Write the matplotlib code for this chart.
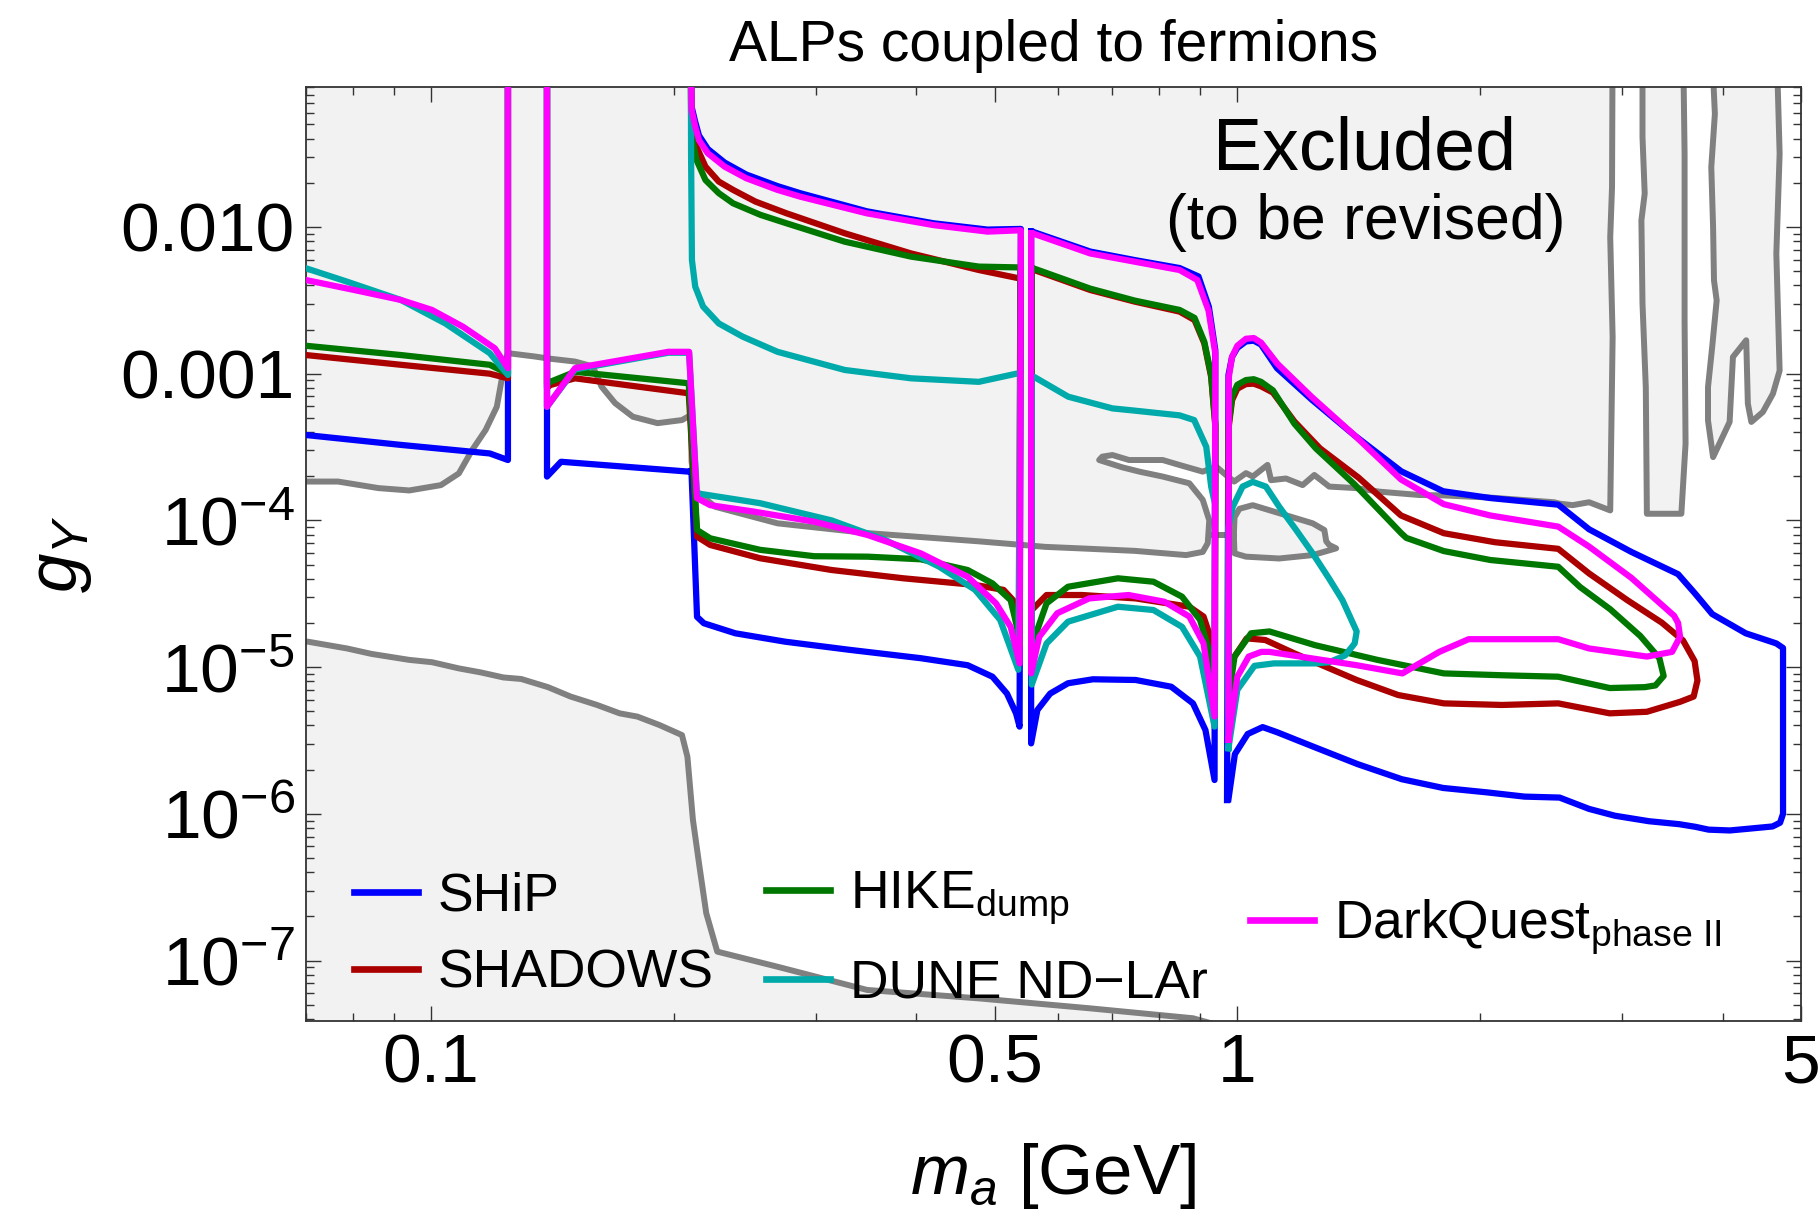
import numpy as np
import matplotlib
matplotlib.use('Agg')
import matplotlib.pyplot as plt
from matplotlib.lines import Line2D
from matplotlib.ticker import LogLocator, NullFormatter

plt.rcParams['font.family'] = ['Liberation Sans', 'DejaVu Sans']
plt.rcParams['mathtext.fontset'] = 'custom'
plt.rcParams['mathtext.rm'] = 'Liberation Sans'
plt.rcParams['mathtext.it'] = 'Liberation Sans:italic'
plt.rcParams['mathtext.bf'] = 'Liberation Sans:bold'

nan = np.nan
TOP = 0.2   # above the frame, curves leave through the top edge

# ---- sensitivity contours (m_a [GeV], g_Y), pieces split by nan ----
ship = [
    (0.07, 3.82e-4), (0.0918, 3.27e-4), (0.1183, 2.86e-4), (0.1246, 2.58e-4), (0.1246, TOP),
    (nan, nan),
    (0.1393, TOP), (0.1393, 1.99e-4), (0.145, 2.51e-4), (0.2088, 2.15e-4), (0.2104, 2.2e-4), (0.2138, 2.2e-5),
    (0.218, 1.99e-5), (0.2385, 1.7e-5), (0.275, 1.49e-5), (0.331, 1.31e-5), (0.405, 1.15e-5), (0.463, 1.03e-5),
    (0.497, 8.6e-6), (0.518, 6.6e-6), (0.5316, 4.84e-6), (0.537, 3.93e-6), (0.539, 9.7e-3),
    (0.49, 9.6e-3), (0.42, 1.06e-2), (0.347, 1.28e-2), (0.287, 1.7e-2), (0.269, 1.9e-2), (0.246, 2.28e-2),
    (0.2313, 2.75e-2), (0.2205, 3.4e-2), (0.215, 4.2e-2), (0.2127, 5.2e-2), (0.2105, 0.066), (0.21, TOP),
    (nan, nan),
    (0.555, 9.3e-3), (0.555, 3.02e-6), (0.565, 5.1e-6), (0.586, 6.6e-6), (0.6166, 7.76e-6), (0.662, 8.26e-6),
    (0.748, 8.17e-6), (0.828, 7.35e-6), (0.881, 5.66e-6), (0.913, 3.72e-6), (0.937, 1.7e-6), (0.939, 1.45e-3),
    (0.922, 2.85e-3), (0.895, 4.6e-3), (0.848, 5.25e-3), (0.746, 5.95e-3), (0.657, 6.8e-3), (0.557, 9.3e-3),
    (0.555, 9.3e-3),
    (nan, nan),
    (0.971, 1.24e-6), (0.975, 9.8e-4), (0.985, 1.3e-3), (1.0, 1.5e-3), (1.025, 1.66e-3), (1.048, 1.68e-3),
    (1.07, 1.58e-3), (1.12, 1.09e-3),
    (1.237, 6.65e-4), (1.397, 3.8e-4), (1.597, 2.16e-4), (1.80, 1.58e-4), (2.06, 1.42e-4), (2.50, 1.28e-4),
    (2.73, 8.7e-5), (3.08, 6.1e-5), (3.52, 4.3e-5), (3.69, 3.2e-5), (3.88, 2.3e-5), (4.27, 1.7e-5),
    (4.66, 1.45e-5), (4.75, 1.35e-5), (4.75, 1.0e-6), (4.71, 8.7e-7), (4.61, 8.2e-7), (4.29, 7.9e-7),
    (4.08, 7.7e-7), (3.84, 7.8e-7), (3.70, 8.15e-7), (3.53, 8.5e-7), (3.24, 8.9e-7), (2.94, 9.7e-7),
    (2.73, 1.08e-6), (2.51, 1.29e-6), (2.27, 1.31e-6), (2.04, 1.4e-6), (1.80, 1.5e-6), (1.60, 1.72e-6),
    (1.41, 2.18e-6), (1.236, 2.9e-6), (1.12, 3.6e-6), (1.075, 3.9e-6), (1.03, 3.5e-6), (0.993, 2.55e-6),
    (0.975, 1.26e-6),
]

shadows = [
    (0.07, 1.34e-3), (0.0918, 1.15e-3), (0.1183, 1.0e-3), (0.1246, 9.3e-4), (0.1246, TOP),
    (nan, nan),
    (0.1393, TOP), (0.1393, 8.0e-4), (0.1406, 8.37e-4), (0.1509, 9.3e-4), (0.2088, 7.35e-4), (0.2138, 7.75e-5),
    (0.222, 6.8e-5), (0.256, 5.52e-5), (0.314, 4.59e-5), (0.3855, 4.03e-5), (0.473, 3.63e-5), (0.513, 3.36e-5),
    (0.5316, 2.72e-5), (0.537, 1.8e-5), (0.538, 4.45e-3),
    (0.478, 5.09e-3), (0.394, 6.6e-3), (0.326, 9.06e-3), (0.276, 1.24e-2), (0.2526, 1.49e-2), (0.237, 1.79e-2),
    (0.2275, 2.04e-2), (0.219, 2.58e-2), (0.2135, 3.52e-2), (0.211, 4.83e-2), (0.2102, 0.07), (0.21, TOP),
    (nan, nan),
    (0.556, 5.1e-3), (0.556, 2.45e-5), (0.58, 3.1e-5), (0.642, 3.1e-5), (0.748, 2.94e-5), (0.872, 2.58e-5),
    (0.908, 2.21e-5), (0.9316, 1.45e-5), (0.938, 8e-6), (0.939, 4.4e-4),
    (0.928, 9.5e-4), (0.91, 1.61e-3), (0.885, 2.32e-3), (0.848, 2.65e-3), (0.746, 3.1e-3), (0.657, 3.72e-3),
    (0.56, 5.09e-3), (0.556, 5.1e-3),
    (nan, nan),
    (0.975, 5e-6), (0.975, 4.2e-4), (0.985, 6.6e-4), (1.0, 7.9e-4), (1.025, 8.5e-4), (1.048, 8.55e-4),
    (1.07, 8.2e-4), (1.107, 7.44e-4),
    (1.177, 4.72e-4), (1.266, 3.1e-4), (1.413, 1.96e-4), (1.596, 1.08e-4), (1.803, 8.18e-5), (2.087, 7.1e-5),
    (2.50, 6.4e-5), (2.73, 4.35e-5), (3.045, 2.86e-5), (3.36, 2.01e-5), (3.57, 1.52e-5), (3.69, 1.1e-5),
    (3.72, 8.1e-6), (3.68, 6.3e-6), (3.54, 5.8e-6), (3.22, 4.96e-6), (2.896, 4.84e-6), (2.50, 5.66e-6),
    (2.128, 5.52e-6), (1.803, 5.66e-6), (1.583, 6.45e-6), (1.406, 8.17e-6), (1.177, 1.24e-5), (1.083, 1.53e-5),
    (1.027, 1.57e-5), (0.9856, 1.12e-5), (0.975, 5e-6),
]

hike = [
    (0.07, 1.55e-3), (0.0918, 1.34e-3), (0.1183, 1.15e-3), (0.1246, 1.0e-3), (0.1246, TOP),
    (nan, nan),
    (0.1393, TOP), (0.1393, 8.5e-4), (0.1406, 8.8e-4), (0.1509, 1.03e-3), (0.2088, 8.6e-4), (0.2138, 8.6e-5),
    (0.222, 7.55e-5), (0.256, 6.3e-5), (0.2987, 5.7e-5), (0.348, 5.66e-5), (0.405, 5.43e-5), (0.463, 4.59e-5),
    (0.497, 3.72e-5), (0.5235, 2.86e-5), (0.533, 1.88e-5), (0.537, 1.4e-5), (0.538, 5.3e-3),
    (0.478, 5.37e-3), (0.394, 6.28e-3), (0.326, 7.94e-3), (0.276, 1.06e-2), (0.2562, 1.21e-2), (0.237, 1.45e-2),
    (0.2275, 1.7e-2), (0.219, 2.09e-2), (0.2135, 2.86e-2), (0.211, 3.9e-2), (0.2102, 0.06), (0.21, TOP),
    (nan, nan),
    (0.556, 5.2e-3), (0.556, 1.5e-5), (0.561, 1.61e-5), (0.58, 2.72e-5), (0.6166, 3.53e-5), (0.711, 4.03e-5),
    (0.787, 3.82e-5), (0.854, 3.02e-5), (0.899, 2.1e-5), (0.927, 1.18e-5), (0.938, 6e-6), (0.939, 4.6e-4),
    (0.928, 9.8e-4), (0.91, 1.65e-3), (0.885, 2.4e-3), (0.848, 2.72e-3), (0.746, 3.15e-3), (0.657, 3.8e-3),
    (0.56, 5.2e-3), (0.556, 5.2e-3),
    (nan, nan),
    (0.975, 6e-6), (0.975, 4.4e-4), (0.985, 7e-4), (1.0, 8.4e-4), (1.025, 9.05e-4), (1.048, 9.17e-4),
    (1.07, 8.8e-4), (1.107, 7.7e-4),
    (1.177, 4.56e-4), (1.251, 3.1e-4), (1.396, 1.77e-4), (1.596, 8.2e-5), (1.62, 7.6e-5), (1.803, 6.18e-5),
    (2.06, 5.37e-5), (2.50, 4.83e-5), (2.66, 3.52e-5), (2.90, 2.48e-5), (3.16, 1.63e-5), (3.337, 1.15e-5),
    (3.378, 8.7e-6), (3.30, 7.5e-6), (3.20, 7.3e-6), (2.896, 7.2e-6), (2.50, 8.6e-6), (2.128, 8.8e-6),
    (1.803, 9.06e-6), (1.492, 1.12e-5), (1.249, 1.41e-5), (1.096, 1.75e-5), (1.04, 1.7e-5), (0.992, 1.18e-5),
    (0.975, 6e-6),
]

dune = [
    (0.07, 5.23e-3), (0.0787, 4.24e-3), (0.0918, 3.18e-3), (0.1042, 2.2e-3), (0.1183, 1.38e-3), (0.1246, 9.8e-4),
    (0.1246, TOP),
    (nan, nan),
    (0.1393, TOP), (0.1393, 5.95e-4), (0.1509, 1.07e-3), (0.197, 1.39e-3), (0.209, 1.39e-3), (0.2137, 1.53e-4),
    (0.256, 1.31e-4), (0.314, 1.0e-4), (0.366, 7.35e-5), (0.427, 4.83e-5), (0.473, 3.36e-5), (0.508, 2.1e-5),
    (0.535, 9.6e-6), (0.538, 1.0e-3),
    (0.532, 1.0e-3), (0.478, 8.8e-4), (0.394, 9.3e-4), (0.326, 1.06e-3), (0.269, 1.41e-3), (0.2435, 1.79e-3),
    (0.2275, 2.2e-3), (0.2175, 2.87e-3), (0.2127, 3.92e-3), (0.2107, 5.95e-3), (0.2102, 0.03), (0.21, TOP),
    (nan, nan),
    (0.556, 9.5e-4), (0.556, 7.6e-6), (0.58, 1.45e-5), (0.6166, 2.04e-5), (0.711, 2.58e-5), (0.787, 2.45e-5),
    (0.854, 1.88e-5), (0.899, 1.18e-5), (0.937, 3.93e-6), (0.938, 1.3e-4),
    (0.928, 1.7e-4), (0.915, 3.18e-4), (0.884, 4.83e-4), (0.848, 5.2e-4), (0.746, 5.6e-4), (0.70, 5.8e-4),
    (0.617, 6.97e-4), (0.56, 9.5e-4), (0.556, 9.5e-4),
    (nan, nan),
    (0.975, 2.8e-6), (0.975, 9e-5), (0.987, 1.24e-4), (1.015, 1.7e-4), (1.045, 1.83e-4), (1.085, 1.7e-4),
    (1.127, 1.24e-4), (1.183, 8.6e-5), (1.24, 5.96e-5), (1.30, 4.0e-5), (1.35, 2.86e-5), (1.385, 2.1e-5),
    (1.406, 1.75e-5), (1.398, 1.45e-5), (1.36, 1.2e-5), (1.30, 1.08e-5), (1.249, 1.06e-5), (1.11, 1.06e-5),
    (1.05, 1.02e-5), (1.0, 7e-6), (0.975, 2.8e-6),
]

darkquest = [
    (0.07, 4.35e-3), (0.0807, 3.7e-3), (0.0918, 3.18e-3), (0.1003, 2.72e-3), (0.1096, 2.09e-3), (0.12, 1.49e-3),
    (0.1246, 1.09e-3), (0.1246, TOP),
    (nan, nan),
    (0.1393, TOP), (0.1393, 5.95e-4), (0.1509, 1.09e-3), (0.197, 1.41e-3), (0.209, 1.41e-3), (0.2137, 1.42e-4),
    (0.222, 1.27e-4), (0.251, 1.15e-4), (0.2987, 9.8e-5), (0.348, 7.95e-5), (0.405, 5.96e-5), (0.463, 4.13e-5),
    (0.502, 2.72e-5), (0.5235, 1.88e-5), (0.537, 1.06e-5), (0.539, 9.5e-3),
    (0.49, 9.3e-3), (0.42, 1.03e-2), (0.347, 1.24e-2), (0.287, 1.61e-2), (0.269, 1.79e-2), (0.246, 2.15e-2),
    (0.2313, 2.58e-2), (0.2205, 3.18e-2), (0.215, 3.9e-2), (0.2127, 4.83e-2), (0.2105, 0.063), (0.21, TOP),
    (nan, nan),
    (0.555, 9.06e-3), (0.555, 9.06e-6), (0.568, 1.61e-5), (0.598, 2.33e-5), (0.655, 2.94e-5), (0.733, 3.1e-5),
    (0.812, 2.79e-5), (0.872, 2.21e-5), (0.908, 1.45e-5), (0.937, 4.6e-6), (0.939, 1.38e-3),
    (0.921, 2.7e-3), (0.892, 4.35e-3), (0.848, 5.09e-3), (0.746, 5.8e-3), (0.657, 6.6e-3), (0.557, 9.06e-3),
    (0.555, 9.06e-3),
    (nan, nan),
    (0.975, 3.2e-6), (0.976, 9.5e-4), (0.985, 1.3e-3), (1.0, 1.55e-3), (1.025, 1.73e-3), (1.048, 1.75e-3),
    (1.07, 1.63e-3), (1.121, 1.17e-3),
    (1.237, 6.93e-4), (1.396, 3.82e-4), (1.596, 1.9e-4), (1.803, 1.29e-4), (2.06, 1.08e-4), (2.50, 9.07e-5),
    (2.73, 6.63e-5), (3.08, 4.06e-5), (3.48, 2.24e-5), (3.52, 2.0e-5), (3.54, 1.61e-5), (3.46, 1.27e-5),
    (3.22, 1.18e-5), (2.73, 1.34e-5), (2.50, 1.55e-5), (1.936, 1.55e-5), (1.78, 1.27e-5), (1.602, 9.06e-6),
    (1.406, 1.03e-5), (1.096, 1.27e-5), (1.071, 1.27e-5), (1.033, 1.18e-5), (1.0, 8.6e-6), (0.975, 3.2e-6),
]

# ---- excluded regions (grey) ----
excl_upper = [
    (0.06, TOP), (0.06, 1.84e-4), (0.0767, 1.84e-4), (0.0861, 1.66e-4), (0.094, 1.6e-4), (0.1029, 1.74e-4),
    (0.1083, 2.09e-4), (0.1125, 3.02e-4), (0.1169, 4.13e-4), (0.1207, 5.95e-4), (0.123, 1.06e-3),
    (0.1246, 1.38e-3), (0.1345, 1.31e-3), (0.1397, 1.27e-3), (0.1509, 1.21e-3), (0.1588, 1.12e-3),
    (0.1628, 8.15e-4), (0.1692, 6.3e-4), (0.178, 5.09e-4), (0.191, 4.6e-4), (0.2048, 4.83e-4), (0.21, 5.22e-4),
    (0.2105, 2.5e-4), (0.213, 1.6e-4), (0.225, 1.24e-4), (0.269, 9.55e-5), (0.347, 8.2e-5), (0.478, 7.2e-5),
    (0.578, 6.6e-5), (0.637, 6.45e-5), (0.746, 6.2e-5), (0.864, 5.8e-5), (0.906, 6.1e-5), (0.919, 7.0e-5),
    (0.923, 1.0e-4), (0.906, 1.38e-4), (0.872, 1.79e-4), (0.808, 1.99e-4), (0.756, 2.15e-4), (0.72, 2.3e-4),
    (0.674, 2.58e-4), (0.68, 2.72e-4), (0.70, 2.79e-4), (0.734, 2.58e-4), (0.808, 2.58e-4), (0.847, 2.39e-4),
    (0.906, 2.15e-4), (0.941, 2.33e-4), (0.968, 2.04e-4), (0.991, 1.84e-4), (1.025, 2.1e-4), (1.045, 1.99e-4),
    (1.09, 2.39e-4), (1.101, 1.88e-4), (1.149, 1.93e-4), (1.205, 1.74e-4), (1.246, 2.04e-4), (1.30, 1.7e-4),
    (1.404, 1.66e-4), (1.50, 1.57e-4), (1.68, 1.49e-4), (1.803, 1.48e-4), (2.06, 1.43e-4), (2.47, 1.33e-4),
    (2.51, 1.3e-4), (2.605, 1.27e-4), (2.73, 1.33e-4), (2.90, 1.17e-4), (2.92, 1.78e-3), (2.90, 8.5e-3),
    (2.915, 0.0187), (2.92, TOP),
]
excl_lobe = [
    (0.99, 7.9e-5), (0.992, 5.96e-5), (1.025, 5.66e-5), (1.127, 5.5e-5), (1.24, 5.8e-5), (1.326, 6.45e-5),
    (1.30, 6.8e-5), (1.289, 7.2e-5), (1.282, 8.6e-5), (1.24, 9.55e-5), (1.127, 1.12e-4), (1.045, 1.27e-4),
    (1.006, 1.2e-4), (0.992, 1.05e-4),
]
excl_bridge = [(0.921, 7.9e-5), (0.99, 7.9e-5)]
excl_strip2 = [
    (3.18, TOP), (3.18, 0.041), (3.20, 0.0169), (3.17, 0.0111), (3.18, 3.0e-3), (3.21, 8.1e-4), (3.22, 1.11e-4),
    (3.553, 1.11e-4), (3.596, 3.33e-4), (3.586, 2.31e-3), (3.586, 0.0316), (3.57, TOP),
]
excl_strip3 = [
    (3.87, TOP), (3.91, 0.059), (3.87, 0.0256), (3.89, 0.01), (3.90, 4.33e-3), (3.93, 3.16e-3), (3.88, 1.52e-3),
    (3.834, 8.1e-4), (3.834, 4.8e-4), (3.89, 2.7e-4), (4.078, 4.69e-4), (4.117, 1.3e-3), (4.276, 1.69e-3),
    (4.296, 6.25e-4), (4.339, 4.69e-4), (4.484, 5.48e-4), (4.615, 7.3e-4), (4.704, 1.05e-3), (4.66, 6.58e-3),
    (4.704, 0.0316), (4.66, TOP),
]
excl_lower = [
    (0.06, 3e-8), (0.06, 1.5e-5), (0.0704, 1.49e-5), (0.0787, 1.34e-5), (0.0844, 1.23e-5), (0.094, 1.12e-5),
    (0.1003, 1.08e-5), (0.1083, 9.8e-6), (0.1153, 9.2e-6), (0.123, 8.5e-6), (0.1294, 8.3e-6), (0.1397, 7.3e-6),
    (0.149, 6.3e-6), (0.1607, 5.52e-6), (0.1714, 4.84e-6), (0.1803, 4.6e-6), (0.192, 4.03e-6), (0.2048, 3.44e-6),
    (0.208, 2.45e-6), (0.2113, 9.1e-7), (0.2153, 4.36e-7), (0.2195, 2.1e-7), (0.2265, 1.15e-7), (0.269, 9.07e-8),
    (0.3475, 6.3e-8), (0.478, 5.52e-8), (0.657, 4.72e-8), (0.881, 4.04e-8), (0.95, 3.6e-8), (0.95, 3e-8),
]

experiments = ['SHiP', 'SHADOWS', r'HIKE$_{\mathrm{dump}}$', 'DUNE ND\u2212LAr', r'DarkQuest$_{\mathrm{phase\ II}}$']
colors = ['#0000ff', '#aa0000', '#007700', '#00aaaa', '#ff00ff']
curves = [ship, shadows, hike, dune, darkquest]

xticks = [0.1, 0.5, 1, 5]
xticklabels = ['0.1', '0.5', '1', '5']
yticks = [1e-7, 1e-6, 1e-5, 1e-4, 1e-3, 1e-2]
yticklabels = [r'$10^{-7}$', r'$10^{-6}$', r'$10^{-5}$', r'$10^{-4}$', '0.001', '0.010']

fig = plt.figure(figsize=(18.19, 12.11), dpi=100)
ax = fig.add_axes([306 / 1819, 1 - 1021 / 1211, 1495 / 1819, 934 / 1211])
ax.set_xscale('log')
ax.set_yscale('log')

fill_kw = dict(facecolor='#f2f2f2', edgecolor='#808080', lw=4.3, zorder=1, joinstyle='round')
for poly in [excl_upper, excl_lobe, excl_strip2, excl_strip3, excl_lower]:
    p = np.array(poly)
    ax.fill(p[:, 0], p[:, 1], **fill_kw)
b = np.array(excl_bridge)
ax.plot(b[:, 0], b[:, 1], color='#808080', lw=4.3, zorder=1.5)

handles = []
for c, col in zip(curves, colors):
    a = np.array(c)
    ax.plot(a[:, 0], a[:, 1], color=col, lw=4.5, zorder=3, solid_joinstyle='round')
    handles.append(Line2D([], [], color=col, lw=4.8))

ax.set_xlim(0.07, 5)
ax.set_ylim(3.87e-8, 0.09)

ax.set_xticks(xticks)
ax.set_xticklabels(xticklabels)
ax.set_yticks(yticks)
ax.set_yticklabels(yticklabels)
ax.xaxis.set_minor_locator(LogLocator(base=10, subs=np.arange(2, 10)))
ax.yaxis.set_minor_locator(LogLocator(base=10, subs=np.arange(2, 10), numticks=20))
ax.xaxis.set_minor_formatter(NullFormatter())
ax.yaxis.set_minor_formatter(NullFormatter())
ax.tick_params(which='both', direction='in', top=True, right=True, color='#333333', width=1.0,
               labelsize=50)
ax.tick_params(which='major', length=11, pad=8)
ax.tick_params(which='minor', length=5.5)
for s in ax.spines.values():
    s.set_color('#333333')
    s.set_linewidth(1.3)

ax.set_xlabel(r'$m_a$ [GeV]', fontsize=51)
ax.xaxis.set_label_coords(0.5, -0.128)
ax.set_ylabel(r'$g_Y$', fontsize=51)
ax.yaxis.set_label_coords(-0.142, 0.5)
ax.set_title('ALPs coupled to fermions', fontsize=41, pad=19)

ax.text(0.708, 0.912, 'Excluded', transform=ax.transAxes, ha='center', va='baseline', fontsize=53, zorder=5)
ax.text(0.709, 0.837, '(to be revised)', transform=ax.transAxes, ha='center', va='baseline', fontsize=45,
        zorder=5)

leg_kw = dict(frameon=False, fontsize=38.5, handlelength=1.2, handletextpad=0.37, borderpad=0,
              borderaxespad=0, loc='center left')
leg1 = ax.legend(handles[0:2], experiments[0:2], bbox_to_anchor=(0.032, 0.092), labelspacing=0.5, **leg_kw)
ax.add_artist(leg1)
leg2 = ax.legend(handles[2:4], experiments[2:4], bbox_to_anchor=(0.3077, 0.088), labelspacing=0.6, **leg_kw)
ax.add_artist(leg2)
leg3 = ax.legend(handles[4:5], experiments[4:5], bbox_to_anchor=(0.6314, 0.10), **leg_kw)
for leg in (leg1, leg2, leg3):
    leg.set_zorder(6)

fig.savefig('out.png', dpi=100, facecolor='white')
